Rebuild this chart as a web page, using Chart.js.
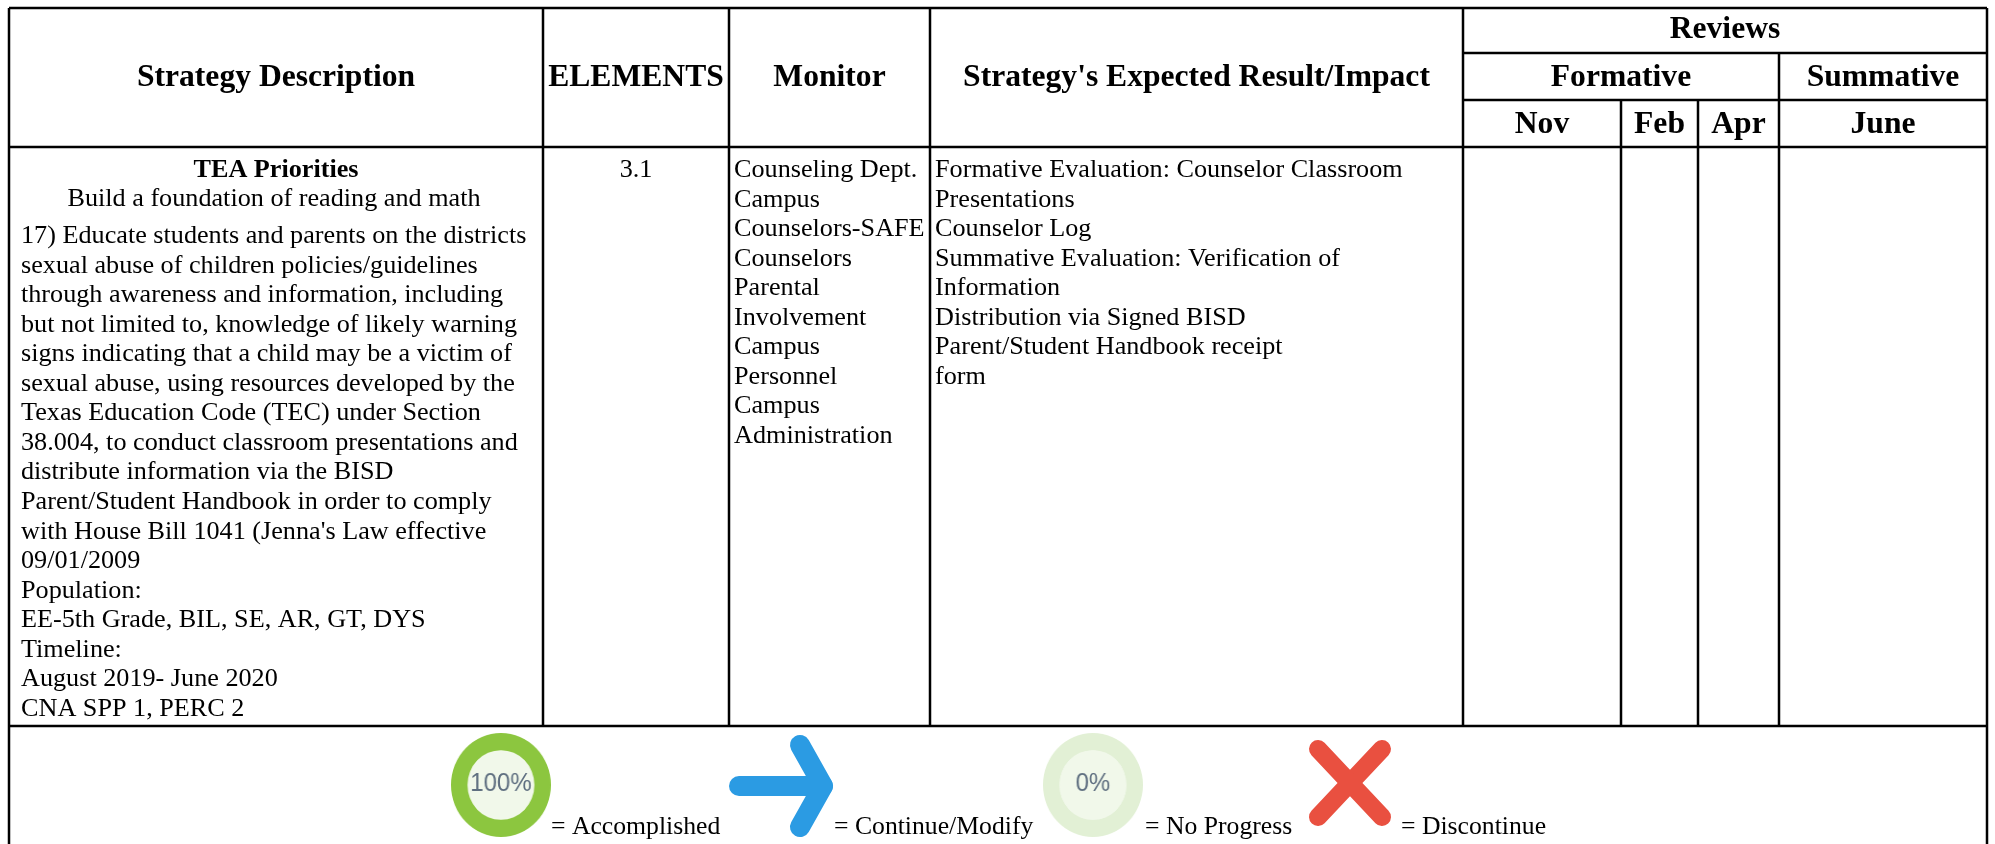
<!DOCTYPE html>
<html>
<head>
<meta charset="utf-8">
<script src="https://cdn.jsdelivr.net/npm/chart.js@4"></script>
<style>
body { margin: 0; background: #fff; overflow: hidden; }
#wrap { position: relative; width: 1995px; height: 844px; }
#wrap canvas { position: absolute; }
#ring100 { left: 451px; top: 733px; transform-origin: left top; transform: scaleX(0.96); }
#ring0 { left: 1043px; top: 733px; transform-origin: left top; transform: scaleX(0.96); }
</style>
</head>
<body>
<div id="wrap">
<canvas id="table" width="1995" height="844" style="left:0;top:0"></canvas>
<canvas id="ring100" width="104" height="104"></canvas>
<canvas id="ring0" width="104" height="104"></canvas>
</div>
<script>
// table rules, in page pixels
var colEdges = [9, 543, 729, 930, 1463, 1621, 1698, 1779, 1987];
var rowEdges = [8, 53, 100, 147, 726];

var headMain = ["Strategy Description", "ELEMENTS", "Monitor", "Strategy's Expected Result/Impact"];
var headTop = ["Reviews"];
var headMid = ["Formative", "Summative"];
var headLow = ["Nov", "Feb", "Apr", "June"];

var strategyTitle = ["TEA Priorities"];
var strategySub = ["Build a foundation of reading and math"];
var strategyLines = [
    "17) Educate students and parents on the districts",
    "sexual abuse of children policies/guidelines",
    "through awareness and information, including",
    "but not limited to, knowledge of likely warning",
    "signs indicating that a child may be a victim of",
    "sexual abuse, using resources developed by the",
    "Texas Education Code (TEC) under Section",
    "38.004, to conduct classroom presentations and",
    "distribute information via the BISD",
    "Parent/Student Handbook in order to comply",
    "with House Bill 1041 (Jenna's Law effective",
    "09/01/2009",
    "Population:",
    "EE-5th Grade, BIL, SE, AR, GT, DYS",
    "Timeline:",
    "August 2019- June 2020",
    "CNA SPP 1, PERC 2"
];
var elementsCell = ["3.1"];
var monitorLines = ["Counseling Dept.", "Campus", "Counselors-SAFE", "Counselors", "Parental", "Involvement", "Campus", "Personnel", "Campus", "Administration"];
var impactLines = [
    "Formative Evaluation: Counselor Classroom",
    "Presentations",
    "Counselor Log",
    "Summative Evaluation: Verification of",
    "Information",
    "Distribution via Signed BISD",
    "Parent/Student Handbook receipt",
    "form"
];
var legendLabels = ["= Accomplished", "= Continue/Modify", "= No Progress", "= Discontinue"];

var arrowShaft = [{ x: 739, y: 786 }, { x: 823, y: 786 }];
var arrowHead = [{ x: 800, y: 745 }, { x: 823, y: 786 }, { x: 800, y: 827 }];
var crossA = [{ x: 1318, y: 749 }, { x: 1382, y: 817 }];
var crossB = [{ x: 1382, y: 749 }, { x: 1318, y: 817 }];

var BODY = '26.2px "Liberation Serif"', BOLD = 'bold 31.6px "Liberation Serif"', LEGEND = '25.7px "Liberation Serif"', PITCH = 29.55;

function rule(x1, y1, x2, y2) {
    return { data: [{ x: x1, y: y1 }, { x: x2, y: y2 }], borderColor: "#000", borderWidth: 2.5, pointRadius: 0, showLine: true };
}

function ruleSets() {
    var c = colEdges, r = rowEdges, out = [];
    out.push(rule(c[0], r[0], c[8], r[0]));
    out.push(rule(c[4], r[1], c[8], r[1]));
    out.push(rule(c[4], r[2], c[8], r[2]));
    out.push(rule(c[0], r[3], c[8], r[3]));
    out.push(rule(c[0], r[4], c[8], r[4]));
    out.push(rule(c[0], r[0], c[0], 844));
    out.push(rule(c[8], r[0], c[8], 844));
    [1, 2, 3, 4].forEach(function (i) { out.push(rule(c[i], r[0], c[i], r[4])); });
    out.push(rule(c[5], r[2], c[5], r[4]));
    out.push(rule(c[6], r[2], c[6], r[4]));
    out.push(rule(c[7], r[1], c[7], r[4]));
    return out;
}

function stroke(points, color, width) {
    return { data: points, borderColor: color, borderWidth: width, pointRadius: 0, showLine: true, borderCapStyle: "round", borderJoinStyle: "round" };
}

// every text item: string, x, baseline y, font, align
function textItems() {
    var c = colEdges, r = rowEdges, t = [];
    function mid(a, b) { return (a + b) / 2; }
    function put(s, x, y, font, align) { t.push({ s: s, x: x, y: y, font: font, align: align || "left" }); }
    headMain.forEach(function (s, i) { put(s, mid(c[i], c[i + 1]), 86, BOLD, "center"); });
    put(headTop[0], mid(c[4], c[8]), 38, BOLD, "center");
    put(headMid[0], mid(c[4], c[7]), 86, BOLD, "center");
    put(headMid[1], mid(c[7], c[8]), 86, BOLD, "center");
    headLow.forEach(function (s, i) { put(s, mid(c[4 + i], c[5 + i]), 133, BOLD, "center"); });
    put(strategyTitle[0], mid(c[0], c[1]), 177, 'bold 26.2px "Liberation Serif"', "center");
    put(strategySub[0], mid(c[0], c[1]) - 2, 206, BODY, "center");
    strategyLines.forEach(function (s, i) { put(s, 21, 243 + i * PITCH, BODY); });
    put(elementsCell[0], mid(c[1], c[2]), 177, BODY, "center");
    monitorLines.forEach(function (s, i) { put(s, 734, 177 + i * PITCH, BODY); });
    impactLines.forEach(function (s, i) { put(s, 935, 177 + i * PITCH, BODY); });
    [551, 834, 1145, 1401].forEach(function (x, i) { put(legendLabels[i], x, 834, LEGEND); });
    return t;
}

var cellText = {
    id: "cellText",
    afterDatasetsDraw: function (chart) {
        var ctx = chart.ctx, sx = chart.scales.x, sy = chart.scales.y;
        ctx.save();
        ctx.fillStyle = "#000";
        ctx.textBaseline = "alphabetic";
        textItems().forEach(function (it) {
            ctx.font = it.font;
            ctx.textAlign = it.align;
            ctx.fillText(it.s, sx.getPixelForValue(it.x), sy.getPixelForValue(it.y));
        });
        ctx.restore();
    }
};

new Chart(document.getElementById("table"), {
    type: "scatter",
    data: {
        datasets: ruleSets().concat([
            stroke(arrowShaft, "#2b9be3", 20),
            stroke(arrowHead, "#2b9be3", 20),
            stroke(crossA, "#e95040", 18),
            stroke(crossB, "#e95040", 18)
        ])
    },
    options: {
        responsive: false,
        animation: false,
        layout: { padding: 0 },
        plugins: { legend: { display: false }, tooltip: { enabled: false } },
        scales: {
            x: { type: "linear", display: false, min: 0, max: 1995 },
            y: { type: "linear", display: false, min: 0, max: 844, reverse: true }
        }
    },
    plugins: [cellText]
});

// progress rings
var done100 = [100, 0];
var done0 = [0, 100];

function ring(id, values, label, font, trackColor) {
    new Chart(document.getElementById(id), {
        type: "doughnut",
        data: { datasets: [{ data: values, backgroundColor: ["#8cc63f", trackColor], borderWidth: 0 }] },
        options: {
            responsive: false,
            animation: false,
            cutout: "67%",
            layout: { padding: 0 },
            plugins: { legend: { display: false }, tooltip: { enabled: false } }
        },
        plugins: [{
            id: "ringCentre",
            beforeDatasetsDraw: function (chart) {
                var a = chart.getDatasetMeta(0).data[0], ctx = chart.ctx;
                ctx.save();
                ctx.fillStyle = "#f1f8ea";
                ctx.beginPath();
                ctx.arc(a.x, a.y, a.innerRadius || chart.width * 0.33, 0, Math.PI * 2);
                ctx.fill();
                ctx.fillStyle = "#5f6f80";
                ctx.font = font;
                ctx.textAlign = "center";
                ctx.textBaseline = "middle";
                ctx.fillText(label, a.x, a.y - 1);
                ctx.restore();
            }
        }]
    });
}
ring("ring100", done100, "100%", '25px "Liberation Sans"', "#e2f0d5");
ring("ring0", done0, "0%", '25px "Liberation Sans"', "#e2f0d5");
</script>
</body>
</html>
